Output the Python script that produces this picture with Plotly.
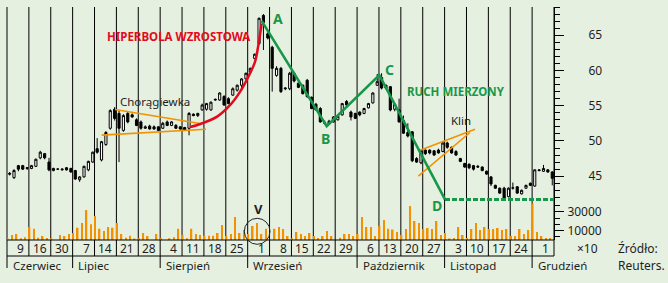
import plotly.graph_objects as go

# ---------------- data ----------------
week_labels = ["9", "16", "30", "7", "14", "21", "28", "4", "11", "18", "25", "1", "8",
               "15", "22", "29", "6", "13", "20", "27", "3", "10", "17", "24", "1"]
month_labels = ["Czerwiec", "Lipiec", "Sierpień", "Wrzesień", "Październik", "Listopad", "Grudzień"]
month_start_week = [0, 3, 7, 11, 16, 20, 24]

open_ = [45.4, 44.8, 46.5, 46.5, 46.1, 46.1, 46.4, 47.6, 48.2, 47.0,
         45.8, 46.0, 45.9, 46.2, 46.1, 45.8, 44.5, 44.9, 45.9, 47.0,
         48.9, 47.3, 49.5, 51.8, 54.5, 53.9, 51.5, 53.9, 53.7, 53.0,
         52.7, 51.8, 52.1, 52.0, 52.0, 51.8, 52.7, 52.2, 52.2, 52.0,
         51.9, 51.8, 53.8, 53.6, 54.4, 54.5, 54.4, 55.8, 55.8, 56.3,
         56.0, 56.5, 57.2, 57.9, 58.8, 59.8, 61.7, 63.8, 67.8, 65.2,
         63.3, 59.3, 60.3, 57.4, 57.4, 59.6, 58.2, 57.9, 58.6, 56.2,
         55.2, 54.6, 52.6, 52.4, 52.7, 53.0, 53.7, 55.6, 54.1, 53.9,
         54.1, 53.9, 54.7, 55.4, 57.9, 59.0, 57.9, 57.7, 54.5, 54.4,
         52.9, 51.2, 51.3, 47.5, 46.9, 48.7, 48.7, 48.6, 48.7, 48.5,
         49.7, 49.1, 48.5, 47.5, 46.8, 46.7, 46.5, 46.4, 46.3, 45.7,
         44.9, 43.7, 43.3, 43.3, 42.1, 43.3, 43.5, 42.5, 43.3, 44.0,
         43.6, 45.9, 45.7, 45.9, 45.6]
high = [45.6, 46.0, 46.6, 46.6, 46.3, 46.6, 47.5, 48.6, 48.3, 47.6,
        46.2, 46.1, 46.1, 46.3, 46.2, 45.9, 45.0, 46.5, 47.2, 48.5,
        50.4, 50.0, 51.4, 54.5, 54.8, 54.3, 53.8, 54.1, 53.9, 53.2,
        52.9, 52.2, 52.3, 52.2, 52.1, 52.7, 52.9, 52.8, 52.4, 52.1,
        52.0, 54.1, 53.9, 54.0, 55.3, 55.4, 55.6, 56.0, 56.9, 56.5,
        56.2, 57.6, 58.0, 58.9, 59.7, 60.4, 62.4, 67.5, 68.0, 65.4,
        63.5, 60.6, 60.5, 57.6, 59.8, 59.8, 58.3, 58.0, 58.8, 56.3,
        55.4, 54.8, 52.9, 53.0, 53.5, 53.6, 55.4, 55.8, 54.3, 54.0,
        54.2, 54.7, 55.4, 56.9, 59.5, 59.6, 58.0, 57.8, 55.3, 56.0,
        53.6, 52.5, 51.4, 47.7, 48.7, 48.8, 48.8, 48.7, 48.9, 50.0,
        49.9, 49.2, 48.7, 47.6, 46.9, 46.8, 46.6, 46.6, 46.4, 45.8,
        45.0, 43.8, 43.4, 43.5, 43.4, 44.1, 43.6, 43.1, 43.8, 44.1,
        46.0, 46.0, 46.6, 46.0, 45.7]
low = [45.1, 44.6, 45.7, 45.9, 45.9, 46.0, 46.3, 47.4, 47.4, 45.7,
       45.7, 45.9, 45.8, 45.8, 45.5, 44.5, 44.2, 44.8, 45.7, 46.9,
       48.2, 47.1, 49.3, 51.6, 52.9, 47.0, 51.3, 52.5, 53.3, 52.1,
       51.6, 51.7, 51.6, 51.6, 51.4, 51.7, 52.1, 52.1, 51.7, 51.6,
       51.5, 50.8, 53.5, 53.4, 54.3, 54.3, 54.3, 55.7, 55.7, 55.0,
       55.2, 56.4, 57.0, 57.4, 58.7, 59.7, 61.6, 63.6, 62.9, 64.4,
       57.0, 59.1, 56.8, 57.2, 57.2, 58.3, 57.5, 56.6, 56.1, 54.5,
       54.3, 52.6, 52.3, 52.3, 52.6, 52.9, 53.6, 55.0, 52.9, 53.1,
       53.5, 53.8, 54.6, 55.3, 57.8, 57.3, 57.3, 54.2, 54.2, 52.6,
       51.0, 50.5, 47.0, 46.9, 46.7, 48.0, 48.1, 47.9, 48.2, 48.4,
       48.9, 48.2, 47.9, 47.0, 46.2, 46.0, 45.8, 46.2, 45.7, 45.2,
       43.6, 43.2, 42.5, 41.8, 42.0, 43.1, 42.5, 42.4, 43.2, 43.6,
       43.5, 45.7, 45.6, 45.5, 43.7]
close = [45.3, 45.8, 46.0, 46.0, 46.2, 46.5, 47.4, 48.4, 47.6, 45.9,
         46.1, 46.0, 46.0, 45.9, 45.6, 44.6, 44.9, 46.4, 47.1, 48.4,
         48.4, 49.9, 51.2, 54.3, 53.2, 51.8, 53.6, 52.7, 53.4, 52.2,
         51.8, 52.0, 51.7, 51.7, 51.5, 52.5, 52.2, 52.7, 51.8, 51.7,
         51.6, 53.9, 53.6, 53.9, 55.1, 55.3, 55.5, 55.9, 56.8, 55.1,
         55.3, 57.4, 57.9, 58.8, 59.6, 60.3, 62.3, 67.4, 66.8, 64.6,
         60.3, 60.3, 57.0, 57.5, 59.6, 58.5, 57.6, 56.7, 56.3, 54.6,
         54.4, 52.7, 52.5, 52.8, 53.4, 53.5, 55.3, 55.1, 53.4, 53.2,
         53.7, 54.6, 55.3, 56.8, 58.4, 57.5, 57.5, 54.4, 55.2, 52.7,
         51.1, 50.7, 47.2, 47.0, 48.6, 48.2, 48.3, 48.0, 48.3, 49.7,
         49.1, 48.3, 48.0, 47.1, 46.3, 46.2, 46.0, 46.3, 45.8, 45.3,
         43.9, 43.3, 42.6, 41.9, 43.3, 43.35, 42.6, 43.0, 43.7, 43.7,
         45.9, 45.8, 46.1, 45.6, 44.7]
volume = [1800, 5400, 6400, 1800, 2900, 14000, 12000, 2500, 4300, 2100,
          1800, 0, 5400, 4300, 6400, 7500, 13200, 18200, 32000, 16800,
          25700, 12100, 9600, 13900, 13200, 18200, 6400, 2500, 4600, 1400,
          1800, 7500, 4300, 0, 6400, 2100, 0, 1800, 2900, 12100,
          5700, 1800, 12100, 6400, 5400, 4600, 4600, 4600, 7500, 16000,
          4300, 6400, 24600, 7500, 10700, 6400, 15000, 18200, 6400, 12100,
          0, 12100, 13800, 11800, 4300, 1800, 8600, 6400, 4300, 7500,
          4300, 2100, 4300, 9600, 4300, 0, 2500, 6400, 6400, 4300,
          6400, 24600, 13900, 13900, 4300, 15000, 21400, 12100, 11100, 8600,
          5400, 11800, 36400, 20400, 18200, 11800, 12900, 11800, 20400, 5400,
          7500, 1400, 2100, 13900, 5400, 2100, 11800, 18200, 10700, 13900,
          11800, 11800, 12900, 10700, 11800, 4300, 4300, 11800, 6400, 10700,
          38600, 8600, 4300, 2100, 2100]

# pattern overlays (day index, price)
zigzag_x = [58.2, 73.06, 85.08, 100.09]          # A, B, C, D
zigzag_y = [67.03, 52.09, 59.33, 41.70]
target_x = [100.09, 125.0]
target_y = [41.70, 41.70]
hyper_x = [41.82, 43.35, 47.92, 50.96, 53.24, 55.14, 56.67, 57.43, 58.2]
hyper_y = [51.99, 52.23, 53.41, 55.07, 56.96, 59.09, 61.21, 63.58, 66.66]
flag_up_x, flag_up_y = [24.68, 44.1], [54.46, 52.48]
flag_lo_x, flag_lo_y = [21.64, 45.48], [50.82, 51.67]
klin_up_x, klin_up_y = [94.38, 106.95], [48.69, 51.67]
klin_lo_x, klin_lo_y = [93.99, 105.8], [45.0, 51.2]

price_ticks = [45, 50, 55, 60, 65]
vol_ticks = [10000, 30000]
vol_tick_text = ["10000", "30000"]

# ---------------- geometry ----------------
W, H = 668, 283
ML, MR, MT, MB = 7, 114, 7, 43
PW, PH = W - ML - MR, H - MT - MB
N_DAYS = len(week_labels) * 5
split = (H - MB - 201.5) / PH   # boundary between price and volume panes


def px(xp):
    return (xp - ML) / PW


def py(yp):
    return (H - MB - yp) / PH


GREEN = "#17974a"
ORANGE = "#f39200"
RED = "#e30a1e"
TXT = "#1e1e1e"
FONT = "Noto Sans"

days = list(range(N_DAYS))
fig = go.Figure()

fig.add_trace(go.Bar(
    x=[d + 0.15 for d in days], y=volume, width=0.36,
    marker=dict(color=ORANGE, line=dict(width=0)),
    xaxis="x", yaxis="y2", hoverinfo="skip", showlegend=False))

fig.add_trace(go.Candlestick(
    x=[d + 0.6 for d in days], open=open_, high=high, low=low, close=close,
    increasing=dict(line=dict(color="black", width=1), fillcolor="white"),
    decreasing=dict(line=dict(color="black", width=1), fillcolor="black"),
    whiskerwidth=0, xaxis="x", yaxis="y", hoverinfo="skip", showlegend=False))

for xs, ys, col, w in [(flag_up_x, flag_up_y, ORANGE, 1.6), (flag_lo_x, flag_lo_y, ORANGE, 1.6),
                       (klin_up_x, klin_up_y, ORANGE, 1.6), (klin_lo_x, klin_lo_y, ORANGE, 1.6)]:
    fig.add_trace(go.Scatter(x=xs, y=ys, mode="lines", line=dict(color=col, width=w),
                             xaxis="x", yaxis="y", hoverinfo="skip", showlegend=False))

fig.add_trace(go.Scatter(x=hyper_x, y=hyper_y, mode="lines",
                         line=dict(color=RED, width=2.5, shape="spline"),
                         xaxis="x", yaxis="y", hoverinfo="skip", showlegend=False))
fig.add_trace(go.Scatter(x=zigzag_x, y=zigzag_y, mode="lines",
                         line=dict(color=GREEN, width=2.6),
                         xaxis="x", yaxis="y", hoverinfo="skip", showlegend=False))
fig.add_trace(go.Scatter(x=target_x, y=target_y, mode="lines",
                         line=dict(color=GREEN, width=3, dash="5px,2px"),
                         xaxis="x", yaxis="y", hoverinfo="skip", showlegend=False))

# ---------------- shapes (grid, frame) ----------------
shapes = []
y_week = py(256)
y_month = py(268)
month_days = [w * 5 for w in month_start_week]
for w in range(len(week_labels) + 1):
    d = w * 5
    bottom = y_month if d in month_days else y_week
    if d == N_DAYS:
        bottom = y_week
    shapes.append(dict(type="line", xref="paper", yref="paper",
                       x0=d / N_DAYS, x1=d / N_DAYS, y0=bottom, y1=1,
                       line=dict(color="black", width=1), layer="below"))
shapes.append(dict(type="line", xref="paper", yref="paper", x0=0, x1=1, y0=0, y1=0,
                   line=dict(color="black", width=1)))
shapes.append(dict(type="line", xref="paper", yref="paper", x0=0, x1=1, y0=y_week, y1=y_week,
                   line=dict(color="black", width=1)))
shapes.append(dict(type="circle", xref="paper", yref="paper",
                   x0=px(244.3), x1=px(270), y0=py(244.3), y1=py(218.3),
                   line=dict(color="#222222", width=1)))

# ---------------- annotations ----------------
ann = []
for i, lab in enumerate(week_labels):
    shift = 0.6 if len(lab) == 1 else 0.0
    ann.append(dict(x=i * 5 + 2.5 + shift, y=py(248), xref="x", yref="paper", text=lab,
                    showarrow=False, xanchor="center", yanchor="middle",
                    font=dict(family=FONT, size=12, color=TXT)))
for lab, w in zip(month_labels, month_start_week):
    ann.append(dict(x=w * 5 + 0.85, y=py(265), xref="x", yref="paper", text=lab,
                    showarrow=False, xanchor="left", yanchor="middle",
                    font=dict(family=FONT, size=11.5, color=TXT)))


def label(text, xp, yp, size, color, bold=False, anchor="center"):
    t = "<b>%s</b>" % text if bold else text
    ann.append(dict(x=px(xp), y=py(yp), xref="paper", yref="paper", text=t, showarrow=False,
                    xanchor=anchor, yanchor="middle",
                    font=dict(family=FONT, size=size, color=color)))


label("HIPERBOLA WZROSTOWA", 178.5, 36.5, 11.5, RED, bold=True)
label("Chorągiewka", 154.5, 101.5, 11.5, TXT)
label("A", 277.7, 18.3, 14, GREEN, bold=True)
label("B", 325.5, 138, 14, GREEN, bold=True)
label("C", 389, 69, 14, GREEN, bold=True)
label("D", 437, 205, 14, GREEN, bold=True)
label("RUCH MIERZONY", 455.5, 91.3, 11.5, GREEN, bold=True)
label("Klin", 461, 120.5, 11.5, TXT)
label("V", 258.3, 208.7, 13, TXT, bold=True)
label("×10", 600, 248, 12, TXT, anchor="right")
label("Źródło:", 616, 248, 12, TXT, anchor="left")
label("Reuters.", 616, 265, 12, TXT, anchor="left")

fig.update_layout(
    width=W, height=H,
    margin=dict(l=ML, r=MR, t=MT, b=MB, pad=0),
    paper_bgcolor="#e6f0e0", plot_bgcolor="#e6f0e0",
    showlegend=False, boxgap=0.3,
    xaxis=dict(range=[0, N_DAYS], showticklabels=False, showgrid=False, zeroline=False,
               showline=False, ticks="", rangeslider=dict(visible=False), fixedrange=True,
               anchor="y2"),
    yaxis=dict(domain=[split, 1], range=[69.0 - (201.5 - MT) / 7.05, 69.0], side="right",
               anchor="x", showgrid=False, zeroline=False, showline=True, linecolor="black",
               linewidth=1, ticks="outside", ticklen=9, tickwidth=1, tickcolor="black",
               tickvals=price_ticks, ticklabelstandoff=22,
               tickfont=dict(family=FONT, size=12, color=TXT),
               minor=dict(dtick=1, tick0=0, ticks="outside", ticklen=5, tickwidth=1,
                          tickcolor="black", showgrid=False),
               fixedrange=True),
    yaxis2=dict(domain=[0, split], range=[0, 38.5 / 0.936 * 1000], side="right",
                anchor="x", showgrid=False, zeroline=False, showline=True, linecolor="black",
                linewidth=1, ticks="outside", ticklen=9, tickwidth=1, tickcolor="black",
                tickvals=vol_ticks, ticktext=vol_tick_text, ticklabelstandoff=1,
                tickfont=dict(family=FONT, size=12, color=TXT),
                minor=dict(dtick=20000 / 3, tick0=10000, ticks="outside", ticklen=5,
                           tickwidth=1, tickcolor="black", showgrid=False),
                fixedrange=True),
    shapes=shapes, annotations=ann,
)

fig.write_html("out.html", config={"displayModeBar": False})
